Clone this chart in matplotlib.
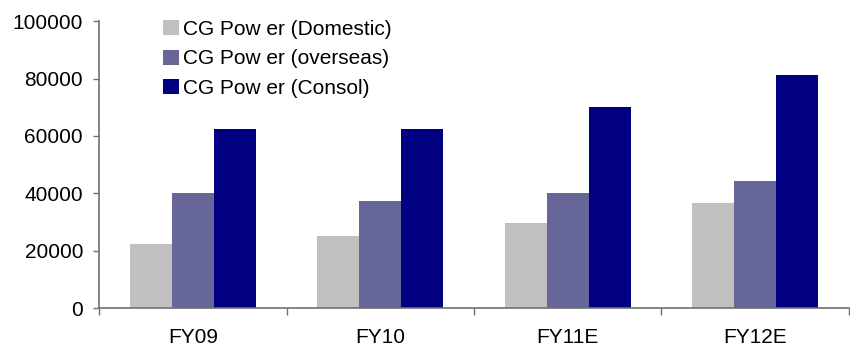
import numpy as np
import matplotlib
matplotlib.use("Agg")
import matplotlib.pyplot as plt

plt.rcParams['font.family'] = ['Liberation Sans', 'DejaVu Sans']

years = ["FY09", "FY10", "FY11E", "FY12E"]
domestic = [22400, 25200, 29700, 36700]
overseas = [40100, 37400, 40100, 44300]
consol = [62400, 62400, 70000, 81200]

series = [
    ("CG Pow er (Domestic)", domestic, "#C0C0C0"),
    ("CG Pow er (overseas)", overseas, "#666699"),
    ("CG Pow er (Consol)", consol, "#000080"),
]

fig = plt.figure(figsize=(8.5, 3.51), dpi=100)
ax = fig.add_axes([0.1165, 0.1217, 0.8823, 0.8183])

x = np.arange(len(years))
w = 0.224
for i, (name, vals, col) in enumerate(series):
    ax.bar(x + (i - 1) * w, vals, width=w, color=col, label=name, linewidth=0)

ax.set_xlim(-0.5, len(years) - 0.5)
ax.set_ylim(0, 100000)
ax.set_yticks(np.arange(0, 100001, 20000))

# category labels centred, tick marks on the boundaries
ax.set_xticks(x)
ax.set_xticklabels(years)
ax.set_xticks(np.arange(-0.5, len(years)), minor=True)
ax.tick_params(axis='x', which='major', length=0, pad=14, labelsize=15)
ax.tick_params(axis='x', which='minor', length=5, width=1, color='#707070', direction='out')
ax.tick_params(axis='y', length=4.5, width=1, color='#707070', pad=7, labelsize=15)

for side in ['top', 'right']:
    ax.spines[side].set_visible(False)
for side in ['left', 'bottom']:
    ax.spines[side].set_color('#707070')
    ax.spines[side].set_linewidth(1.2)

fig.legend(loc='upper left', bbox_to_anchor=(163 / 850, 1 - 20 / 351),
           frameon=False, fontsize=15, borderpad=0, borderaxespad=0,
           handlelength=0.75, handleheight=0.75, handletextpad=0.2,
           labelspacing=0.5)

fig.savefig("out.png", dpi=100)
